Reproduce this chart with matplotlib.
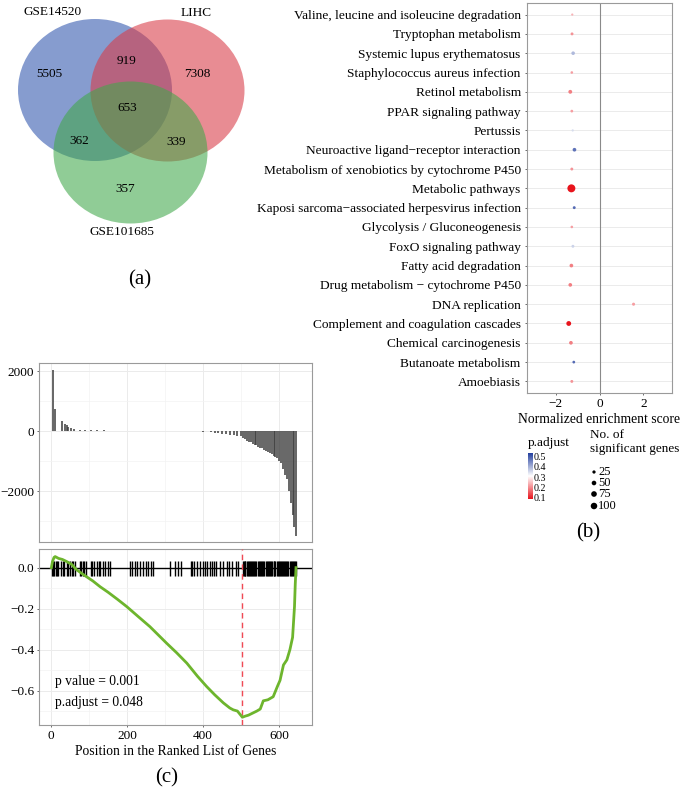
"""Composite figure: Venn diagram (a), GSEA dot plot (b), GSEA running score (c)."""

import matplotlib
matplotlib.use("Agg")
import matplotlib.pyplot as plt
from matplotlib.patches import Ellipse
from matplotlib.colors import LinearSegmentedColormap, Normalize
from matplotlib.cm import ScalarMappable
from matplotlib.ticker import MultipleLocator, FixedLocator

plt.rcParams['font.family'] = ['Liberation Serif', 'DejaVu Serif']
plt.rcParams['axes.unicode_minus'] = True

W, H = 685, 794

# --- (a) Venn data ---
venn_sets = ["GSE14520", "LIHC", "GSE101685"]
venn_counts = [5505, 919, 7308, 653, 362, 339, 357]

# --- (b) dot plot data (top to bottom) ---
pathways = [
    "Valine, leucine and isoleucine degradation",
    "Tryptophan metabolism",
    "Systemic lupus erythematosus",
    "Staphylococcus aureus infection",
    "Retinol metabolism",
    "PPAR signaling pathway",
    "Pertussis",
    "Neuroactive ligand\u2212receptor interaction",
    "Metabolism of xenobiotics by cytochrome P450",
    "Metabolic pathways",
    "Kaposi sarcoma\u2212associated herpesvirus infection",
    "Glycolysis / Gluconeogenesis",
    "FoxO signaling pathway",
    "Fatty acid degradation",
    "Drug metabolism \u2212 cytochrome P450",
    "DNA replication",
    "Complement and coagulation cascades",
    "Chemical carcinogenesis",
    "Butanoate metabolism",
    "Amoebiasis",
]
nes = [-1.24, -1.25, -1.20, -1.26, -1.33, -1.26, -1.22, -1.14, -1.26, -1.28,
       -1.15, -1.26, -1.21, -1.28, -1.33, 1.55, -1.40, -1.30, -1.17, -1.26]
gene_counts = [12, 20, 30, 16, 35, 18, 12, 32, 20, 150,
               20, 16, 20, 32, 32, 22, 55, 32, 18, 20]
p_adjust = [0.24, 0.21, 0.39, 0.22, 0.19, 0.22, 0.35, 0.47, 0.21, 0.06,
            0.48, 0.22, 0.36, 0.19, 0.19, 0.22, 0.08, 0.19, 0.48, 0.21]
size_legend = [25, 50, 75, 100]
cbar_ticks = [0.1, 0.2, 0.3, 0.4, 0.5]

# --- (c) GSEA data ---
rank_pos = [5, 10, 28, 38, 42, 46, 52, 60, 75, 90, 105, 120, 140, 160, 180,
            200, 230, 260, 300, 340, 380, 400, 420, 430, 440, 450, 460, 470,
            480, 490, 500, 505, 510, 515, 520, 525, 530, 535, 540, 545, 550,
            555, 560, 565, 570, 575, 580, 585, 590, 595, 600, 605, 610, 615,
            620, 625, 630, 635, 640, 644]
rank_val = [2050, 750, 330, 250, 200, 150, 100, 60, 40, 30, 40, 30, 25, 15, 10,
            10, 8, 5, 5, -5, -10, -20, -40, -60, -80, -100, -110, -120,
            -140, -160, -180, -240, -280, -320, -360, -380, -420, -450, -480,
            -520, -560, -580, -620, -650, -700, -740, -780, -820, -860, -900,
            -1000, -1080, -1250, -1450, -1600, -2000, -2400, -2800, -3200, -3500]
hits = [2, 5, 8, 12, 15, 19, 27, 31, 35, 41, 45, 49, 54, 58, 63, 76, 80, 85,
        88, 92, 104, 108, 112, 120, 125, 129, 138, 143, 150, 155, 208, 214,
        220, 227, 234, 243, 250, 256, 262, 269, 313, 326, 335, 341, 367, 370,
        377, 385, 392, 399, 405, 409, 418, 424, 429, 435, 444, 453, 462, 468,
        477, 486, 492, 504, 506, 509, 511, 514, 517, 520, 522, 525, 528, 531,
        533, 536, 540, 543, 546, 549, 551, 554, 558, 561, 564, 567, 570, 573,
        576, 579, 582, 585, 587, 590, 593, 596, 599, 601, 604, 607, 610, 613,
        616, 618, 621, 624, 627, 630, 633, 636, 639, 642, 645]
es_x = [1, 4, 8, 11, 20, 30, 41, 55, 67, 90, 110, 129, 150, 175, 199, 230,
        260, 304, 330, 357, 385, 409, 430, 453, 470, 479, 490, 503, 510, 519,
        530, 541, 550, 558, 570, 584, 595, 602, 611, 620, 628, 635, 638, 640,
        642, 644]
es_y = [0.0, 0.03, 0.05, 0.054, 0.045, 0.04, 0.03, 0.015, -0.01, -0.04,
        -0.065, -0.093, -0.12, -0.155, -0.19, -0.24, -0.288, -0.369, -0.415,
        -0.466, -0.53, -0.58, -0.62, -0.66, -0.685, -0.694, -0.70, -0.73,
        -0.725, -0.72, -0.71, -0.70, -0.69, -0.65, -0.645, -0.63, -0.58,
        -0.55, -0.475, -0.45, -0.40, -0.34, -0.25, -0.19, -0.08, 0.0]
peak_pos = 503
p_value_text = "p value = 0.001"
p_adjust_text = "p.adjust = 0.048"

DOT_SCALE = 0.22


def px_axes(fig, x0, y0, x1, y1):
    """Add an axes given pixel box (top-left origin)."""
    return fig.add_axes([x0 / W, 1 - y1 / H, (x1 - x0) / W, (y1 - y0) / H])


def style_panel(ax):
    for sp in ax.spines.values():
        sp.set_color("#9a9a9a")
        sp.set_linewidth(0.8)
    ax.tick_params(length=1.5, width=0.6, color="#555555", labelsize=9.5, pad=2)


fig = plt.figure(figsize=(W / 100, H / 100), dpi=100)

# overlay in pixel coordinates for Venn, legends and panel labels
ov = fig.add_axes([0, 0, 1, 1])
ov.set_xlim(0, W)
ov.set_ylim(H, 0)
ov.axis("off")

# ---------------- (a) Venn ----------------
venn_colors = ["#2f55ad", "#d93a45", "#41a84a"]
venn_centers = [(95, 90), (167.5, 90.5), (130.5, 152.5)]
for c, col in zip(venn_centers, venn_colors):
    ov.add_patch(Ellipse(c, 154, 142, facecolor=col, alpha=0.58, edgecolor="none"))
set_label_pos = [(53, 12), (196, 13), (122, 232)]
for name, (x, y) in zip(venn_sets, set_label_pos):
    ov.text(x, y, name, ha="center", va="center", fontsize=9.5)
count_pos = [(49, 74), (127, 61), (197, 74), (127, 108), (79, 141), (176, 142), (125, 189)]
for n, (x, y) in zip(venn_counts, count_pos):
    ov.text(x, y, str(n), ha="center", va="center", fontsize=9.5)
ov.text(140, 280, "(a)", ha="center", va="center", fontsize=15)

# ---------------- (b) dot plot ----------------
cmap = LinearSegmentedColormap.from_list(
    "padj", [(0.0, "#e8141c"), (0.5, "#ffffff"), (1.0, "#233f9e")])
norm = Normalize(vmin=0.09, vmax=0.53)

axb = px_axes(fig, 527, 3, 672, 393)
ypos = list(range(len(pathways) - 1, -1, -1))
for y in ypos:
    axb.axhline(y, color="#ebebeb", lw=0.7, zorder=0)
axb.axvline(0, color="#8a8a8a", lw=0.8, zorder=1)
axb.scatter(nes, ypos, s=[DOT_SCALE * g for g in gene_counts], c=p_adjust,
            cmap=cmap, norm=norm, edgecolors="none", zorder=3)
axb.set_xlim(-3.3, 3.3)
axb.set_ylim(-0.6, len(pathways) - 0.4)
axb.set_yticks(ypos)
axb.set_yticklabels(pathways)
axb.set_xticks([-2, 0, 2])
axb.set_xticklabels(["\u22122", "0", "2"])
style_panel(axb)
axb.tick_params(axis="y", labelsize=9.6, pad=3)
axb.set_xlabel("Normalized enrichment score", fontsize=9.8, labelpad=2)

# colorbar legend
cax = px_axes(fig, 528, 453, 533, 499)
cb = fig.colorbar(ScalarMappable(norm=norm, cmap=cmap), cax=cax)
cb.outline.set_visible(False)
cb.set_ticks(cbar_ticks)
cb.ax.set_yticklabels([f"{t:.1f}" for t in cbar_ticks])
cb.ax.tick_params(length=0, labelsize=7.2, pad=0.5)
ov.text(528, 443, "p.adjust", ha="left", va="center", fontsize=9.5)

# size legend
ov.text(590, 435, "No. of", ha="left", va="center", fontsize=9.5)
ov.text(590, 449, "significant genes", ha="left", va="center", fontsize=9.5)
legend_y = [472, 483, 494, 506]
ov.scatter([594] * len(size_legend), legend_y,
           s=[DOT_SCALE * g for g in size_legend], color="black", edgecolors="none")
for g, y in zip(size_legend, legend_y):
    ov.text(598, y, str(g), ha="left", va="center", fontsize=9)
ov.text(588, 533, "(b)", ha="center", va="center", fontsize=15)

# ---------------- (c) GSEA ----------------
xlim_c = (-31.5, 686)
axt = px_axes(fig, 39, 363, 312, 542)
axt.set_xlim(*xlim_c)
axt.set_ylim(-3700, 2270)
axt.xaxis.set_major_locator(MultipleLocator(200))
axt.xaxis.set_minor_locator(FixedLocator([100, 300, 500]))
axt.yaxis.set_major_locator(FixedLocator([-2000, 0, 2000]))
axt.yaxis.set_minor_locator(FixedLocator([-3000, -1000, 1000]))
axt.grid(which="major", color="#ebebeb", lw=0.7)
axt.grid(which="minor", color="#f3f3f3", lw=0.5)
axt.set_axisbelow(True)
axt.vlines(rank_pos, 0, rank_val, color="#3c3c3c", lw=1.1)
axt.set_xticklabels([])
axt.set_yticks([-2000, 0, 2000])
axt.set_yticklabels(["\u22122000", "0", "2000"])
style_panel(axt)
axt.tick_params(axis="x", which="both", length=0)
axt.tick_params(axis="y", which="minor", length=0)

axc = px_axes(fig, 39, 549, 312, 725)
axc.set_xlim(*xlim_c)
axc.set_ylim(-0.768, 0.091)
axc.xaxis.set_major_locator(MultipleLocator(200))
axc.xaxis.set_minor_locator(FixedLocator([100, 300, 500]))
axc.yaxis.set_major_locator(FixedLocator([-0.6, -0.4, -0.2, 0.0]))
axc.yaxis.set_minor_locator(FixedLocator([-0.7, -0.5, -0.3, -0.1]))
axc.grid(which="major", color="#ebebeb", lw=0.7)
axc.grid(which="minor", color="#f3f3f3", lw=0.5)
axc.set_axisbelow(True)
axc.axhline(0, color="black", lw=1.0, zorder=2)
axc.vlines(hits, -0.04, 0.034, color="black", lw=1.0, zorder=3)
axc.axvline(peak_pos, color="#f04a55", lw=1.0, ls=(0, (4, 3)), zorder=4)
axc.plot(es_x, es_y, color="#6db52d", lw=2.0, zorder=5)
axc.set_yticks([-0.6, -0.4, -0.2, 0.0])
axc.set_yticklabels(["\u22120.6", "\u22120.4", "\u22120.2", "0.0"])
axc.set_xticks([0, 200, 400, 600])
style_panel(axc)
axc.tick_params(which="minor", length=0)
axc.set_xlabel("Position in the Ranked List of Genes", fontsize=9.8, labelpad=2)
axc.text(10, -0.556, p_value_text, ha="left", va="center", fontsize=9.8)
axc.text(10, -0.657, p_adjust_text, ha="left", va="center", fontsize=9.8)
ov.text(167, 778, "(c)", ha="center", va="center", fontsize=15)

fig.savefig("out.png", dpi=100)
